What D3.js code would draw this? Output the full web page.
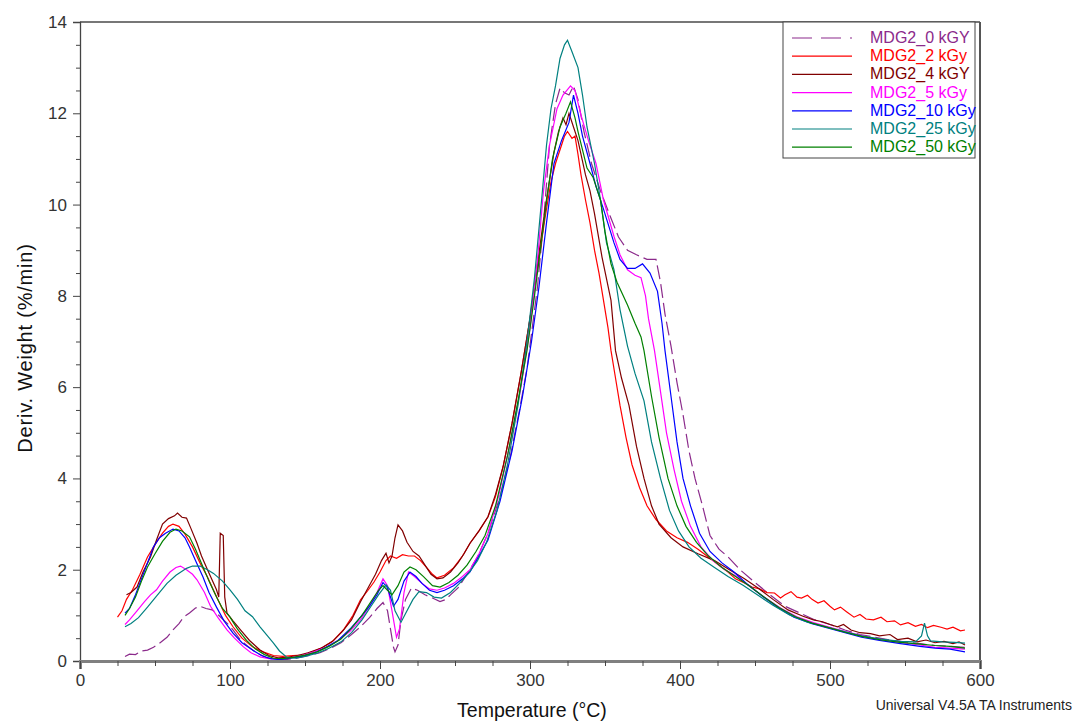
<!DOCTYPE html>
<html>
<head>
<meta charset="utf-8">
<script src="https://cdn.jsdelivr.net/npm/d3@7"></script>
<style>
  body { margin: 0; background: #fff; }
  text { font-family: "Liberation Sans", Arial, sans-serif; }
</style>
</head>
<body>
<div id="chart"></div>
<script>
// series labels, in legend order
const seriesNames = ["MDG2_0 kGY", "MDG2_2 kGy", "MDG2_4 kGY", "MDG2_5 kGy", "MDG2_10 kGy", "MDG2_25 kGy", "MDG2_50 kGy"];

// [temperature °C, deriv. weight %/min]
const mdg2_0 = [[30,0.1],[33,0.15],[37,0.14],[41,0.22],[45,0.24],[49,0.3],[53,0.39],[58,0.52],[62,0.68],[66,0.82],[69,0.96],[73,1.05],[77,1.16],[80,1.2],[84,1.15],[88,1.12],[91,1.05],[95,0.92],[98,0.83],[102,0.68],[107,0.46],[112,0.32],[118,0.17],[124,0.08],[130,0.04],[137,0.03],[145,0.07],[153,0.12],[160,0.18],[167,0.28],[174,0.4],[181,0.58],[187,0.75],[193,0.95],[198,1.15],[202,1.28],[205,1.1],[207,0.7],[209,0.3],[210,0.2],[212,0.35],[214,0.9],[217,1.35],[221,1.6],[225,1.55],[230,1.45],[235,1.38],[240,1.3],[244,1.35],[247,1.45],[252,1.6],[258,1.9],[265,2.28],[272,2.8],[280,3.6],[287,4.5],[293,5.5],[298,6.4],[305,8.2],[309,9.6],[313,11.3],[317,12.2],[320,12.55],[323,12.45],[326,12.4],[329,12.6],[332,12.3],[336,11.6],[341,10.9],[347,10.3],[354,9.7],[359,9.29],[365,9.0],[371,8.9],[378,8.8],[384,8.8],[387,8.3],[390,7.6],[394,6.9],[398,6.1],[402,5.4],[406,4.6],[410,4.0],[415,3.4],[420,2.75],[426,2.45],[432,2.28],[440,2.0],[450,1.72],[460,1.45],[470,1.2],[480,1.05],[490,0.9],[500,0.8],[510,0.68],[520,0.58],[530,0.52],[540,0.46],[550,0.42],[560,0.38],[570,0.34],[580,0.32],[590,0.3]];

const mdg2_2 = [[25,0.96],[28,1.1],[31,1.35],[35,1.56],[40,1.9],[45,2.28],[50,2.55],[55,2.8],[59,2.95],[62,3.0],[66,2.95],[70,2.78],[75,2.5],[80,2.15],[85,1.84],[89,1.55],[93,1.27],[97,1.0],[102,0.75],[108,0.5],[115,0.31],[122,0.2],[129,0.12],[135,0.1],[142,0.12],[148,0.13],[155,0.2],[162,0.3],[169,0.45],[176,0.7],[182,1.0],[187,1.34],[192,1.55],[196,1.73],[200,1.95],[204,2.2],[207,2.3],[211,2.25],[215,2.33],[219,2.3],[223,2.3],[227,2.2],[231,2.05],[235,1.9],[238,1.82],[243,1.88],[249,2.04],[255,2.3],[260,2.58],[266,2.85],[272,3.16],[277,3.6],[282,4.25],[288,5.2],[294,6.3],[300,7.5],[305,8.6],[310,9.7],[314,10.5],[317,10.9],[321,11.3],[323,11.5],[325,11.6],[328,11.45],[330,11.5],[332,11.1],[334,10.65],[337,10.1],[340,9.6],[343,9.0],[346,8.5],[349,7.9],[352,7.3],[354,6.8],[357,6.2],[360,5.6],[364,4.9],[368,4.3],[373,3.8],[378,3.4],[384,3.1],[391,2.85],[398,2.7],[405,2.6],[412,2.45],[420,2.25],[426,2.1],[432,1.95],[437,1.8],[443,1.71],[448,1.62],[453,1.58],[458,1.5],[463,1.49],[467,1.38],[470,1.45],[474,1.52],[478,1.4],[481,1.38],[485,1.44],[488,1.35],[492,1.27],[496,1.32],[500,1.2],[503,1.12],[507,1.18],[511,1.08],[516,0.96],[520,1.02],[524,0.92],[529,0.9],[534,0.96],[538,0.86],[543,0.88],[547,0.79],[552,0.84],[557,0.76],[561,0.8],[565,0.73],[569,0.78],[574,0.74],[578,0.7],[582,0.74],[587,0.66],[590,0.68]];

const mdg2_4 = [[31,1.45],[34,1.5],[38,1.62],[42,1.95],[47,2.28],[51,2.65],[55,3.0],[59,3.12],[63,3.18],[65,3.24],[68,3.15],[71,3.13],[74,2.9],[78,2.58],[81,2.3],[85,2.0],[88,1.78],[91,1.56],[92.5,1.4],[93.5,2.8],[95.5,2.75],[96.5,1.4],[98,1.05],[102,0.88],[107,0.68],[113,0.45],[120,0.24],[126,0.12],[132,0.07],[138,0.08],[145,0.12],[152,0.18],[160,0.27],[168,0.42],[175,0.65],[181,0.9],[187,1.3],[192,1.6],[197,1.9],[201,2.2],[204,2.36],[206,2.15],[208,2.3],[210,2.7],[212,2.98],[215,2.85],[218,2.6],[222,2.4],[226,2.3],[230,2.1],[234,1.9],[238,1.8],[242,1.82],[247,1.95],[252,2.15],[256,2.35],[260,2.58],[266,2.85],[272,3.16],[277,3.65],[282,4.25],[288,5.2],[294,6.3],[300,7.5],[305,8.7],[310,9.9],[316,11.15],[319,11.6],[322,11.9],[324,11.75],[326,12.0],[329,11.7],[332,11.4],[337,10.65],[340,10.3],[343,9.8],[348,8.85],[354,7.9],[357,6.8],[361,6.2],[366,5.6],[371,4.7],[376,4.0],[381,3.4],[386,3.0],[394,2.7],[402,2.5],[412,2.35],[423,2.2],[433,2.0],[443,1.8],[452,1.6],[462,1.35],[472,1.12],[482,0.98],[489,0.9],[495,0.86],[500,0.8],[505,0.75],[509,0.8],[514,0.68],[520,0.62],[527,0.6],[533,0.55],[540,0.58],[545,0.47],[552,0.5],[558,0.42],[564,0.46],[570,0.4],[576,0.43],[582,0.38],[586,0.42],[590,0.35]];

const mdg2_5 = [[30,0.8],[33,0.9],[38,1.1],[43,1.3],[47,1.45],[51,1.56],[55,1.75],[60,1.95],[64,2.05],[67,2.08],[71,2.0],[75,1.9],[78,1.78],[83,1.5],[87,1.2],[92,0.95],[98,0.68],[103,0.5],[109,0.31],[114,0.18],[120,0.09],[126,0.05],[133,0.04],[140,0.07],[148,0.12],[156,0.2],[164,0.3],[172,0.45],[180,0.65],[187,0.9],[193,1.2],[198,1.5],[202,1.8],[205,1.65],[208,1.1],[211,0.52],[213,0.7],[216,1.5],[219,1.95],[223,1.85],[228,1.7],[233,1.58],[238,1.55],[243,1.6],[249,1.7],[255,1.85],[260,2.0],[266,2.35],[272,2.8],[279,3.6],[287,4.8],[294,6.0],[300,7.3],[305,8.8],[309,10.3],[313,11.3],[318,12.1],[322,12.4],[327,12.6],[330,12.5],[334,11.96],[339,11.4],[344,10.9],[349,10.1],[356,9.3],[360,8.9],[365,8.57],[370,8.45],[374,8.4],[377,8.0],[379,7.5],[383,6.8],[387,5.9],[391,5.0],[396,4.2],[401,3.5],[407,2.95],[414,2.5],[422,2.2],[430,2.0],[438,1.85],[447,1.62],[457,1.38],[467,1.16],[478,0.97],[489,0.84],[500,0.74],[511,0.64],[522,0.55],[535,0.46],[548,0.4],[560,0.35],[570,0.3],[580,0.28],[590,0.26]];

const mdg2_10 = [[30,1.05],[33,1.15],[37,1.45],[41,1.8],[45,2.15],[49,2.5],[53,2.7],[57,2.8],[62,2.89],[66,2.85],[70,2.7],[73,2.5],[77,2.2],[82,1.84],[86,1.5],[91,1.18],[96,0.88],[102,0.61],[108,0.4],[115,0.24],[121,0.12],[127,0.05],[133,0.03],[140,0.06],[148,0.1],[156,0.17],[164,0.3],[172,0.45],[180,0.7],[187,0.96],[193,1.2],[198,1.45],[202,1.72],[205,1.6],[209,1.2],[212,1.35],[216,1.75],[220,1.95],[224,1.85],[228,1.7],[233,1.55],[238,1.5],[243,1.55],[249,1.65],[255,1.8],[260,1.95],[266,2.3],[272,2.65],[280,3.5],[288,4.6],[295,5.8],[301,7.0],[306,8.2],[311,9.6],[316,10.9],[321,11.4],[326,11.8],[329,12.4],[332,12.0],[335,11.5],[340,10.9],[344,10.4],[349,9.9],[356,9.16],[360,8.8],[365,8.6],[370,8.6],[375,8.7],[380,8.5],[385,8.1],[388,7.4],[390,6.8],[394,5.8],[398,4.8],[402,4.0],[407,3.4],[413,2.8],[420,2.4],[428,2.15],[436,1.95],[445,1.68],[455,1.42],[465,1.18],[476,0.96],[488,0.82],[499,0.72],[510,0.62],[521,0.52],[533,0.45],[547,0.38],[560,0.32],[570,0.28],[580,0.26],[590,0.2]];

const mdg2_25 = [[30,0.75],[34,0.82],[39,0.95],[45,1.18],[51,1.42],[58,1.7],[64,1.88],[71,2.03],[75,2.08],[80,2.08],[85,2.0],[89,1.92],[95,1.75],[100,1.56],[105,1.35],[110,1.1],[115,0.97],[120,0.75],[125,0.55],[129,0.39],[133,0.22],[138,0.08],[144,0.06],[150,0.1],[158,0.17],[166,0.28],[174,0.42],[181,0.62],[188,0.9],[194,1.2],[199,1.45],[204,1.67],[207,1.55],[210,1.1],[214,0.85],[218,1.1],[222,1.35],[226,1.52],[231,1.5],[236,1.4],[241,1.38],[247,1.5],[253,1.7],[259,1.92],[265,2.2],[271,2.6],[278,3.3],[285,4.3],[292,5.6],[298,7.0],[303,8.4],[308,10.2],[311,11.3],[314,12.1],[317,12.6],[320,13.2],[323,13.5],[325,13.6],[328,13.35],[332,13.0],[335,12.4],[338,11.7],[343,10.9],[347,10.1],[351,9.16],[356,8.57],[360,7.7],[365,6.9],[370,6.3],[376,5.7],[381,4.8],[387,4.0],[393,3.3],[399,2.85],[406,2.5],[414,2.25],[423,2.05],[432,1.85],[442,1.66],[452,1.44],[462,1.22],[473,1.01],[485,0.85],[497,0.75],[509,0.65],[521,0.55],[534,0.48],[547,0.43],[557,0.42],[561,0.55],[563,0.83],[565,0.55],[567,0.44],[575,0.42],[583,0.41],[590,0.39]];

const mdg2_50 = [[30,1.0],[33,1.15],[37,1.4],[41,1.75],[45,2.06],[50,2.35],[55,2.62],[60,2.82],[64,2.89],[68,2.85],[73,2.72],[77,2.45],[82,2.06],[86,1.75],[91,1.4],[95,1.15],[100,0.96],[105,0.7],[111,0.45],[117,0.26],[123,0.14],[129,0.06],[135,0.05],[142,0.08],[150,0.13],[158,0.2],[166,0.32],[174,0.48],[181,0.72],[188,1.0],[194,1.3],[199,1.55],[202,1.65],[205,1.55],[208,1.45],[212,1.65],[216,1.95],[220,2.06],[224,2.0],[229,1.85],[235,1.65],[240,1.62],[246,1.72],[252,1.88],[258,2.1],[264,2.4],[270,2.75],[277,3.4],[285,4.5],[292,5.7],[298,6.8],[303,8.0],[308,9.3],[312,10.3],[315,11.0],[320,11.7],[324,12.0],[327,12.25],[330,11.9],[332,11.6],[338,10.8],[342,10.6],[347,10.1],[350,9.4],[354,8.7],[358,8.3],[365,7.8],[370,7.4],[374,7.1],[376,6.8],[381,5.8],[386,4.9],[392,4.0],[398,3.4],[404,2.95],[411,2.6],[419,2.3],[428,2.05],[437,1.85],[446,1.65],[456,1.4],[466,1.17],[477,0.97],[488,0.83],[499,0.73],[510,0.63],[521,0.54],[534,0.46],[547,0.41],[560,0.37],[570,0.34],[580,0.32],[590,0.28]];

const seriesData = [mdg2_0, mdg2_2, mdg2_4, mdg2_5, mdg2_10, mdg2_25, mdg2_50];
const colors = ["#8b2a8b", "#ff0000", "#800000", "#ff00ff", "#0000ff", "#008080", "#008000"];

const xTicks = [0, 100, 200, 300, 400, 500, 600];
const yTicks = [0, 2, 4, 6, 8, 10, 12, 14];

const W = 1075, H = 722;
const margin = { top: 22, right: 95, bottom: 61, left: 80 };
const width = W - margin.left - margin.right;
const height = H - margin.top - margin.bottom;

const svg = d3.select("#chart").append("svg")
  .attr("width", W)
  .attr("height", H);

const g = svg.append("g")
  .attr("transform", `translate(${margin.left},${margin.top})`);

const x = d3.scaleLinear().domain([0, 600]).range([0, width]);
const y = d3.scaleLinear().domain([0, 14]).range([height, 0]);

// curves
const line = d3.line()
  .x(d => x(d[0]))
  .y(d => y(d[1]));

seriesData.forEach((s, i) => {
  g.append("path")
    .datum(s)
    .attr("fill", "none")
    .attr("stroke", colors[i])
    .attr("stroke-width", 1.2)
    .attr("stroke-dasharray", i === 0 ? "14,5" : null)
    .attr("d", line);
});

// frame: top and right borders
g.append("line").attr("x1", 0).attr("x2", width).attr("y1", 0).attr("y2", 0)
  .attr("stroke", "#777").attr("stroke-width", 2);
g.append("line").attr("x1", width).attr("x2", width).attr("y1", 0).attr("y2", height)
  .attr("stroke", "#555").attr("stroke-width", 2);

// y axis
const yAxis = g.append("g")
  .call(d3.axisLeft(y).tickValues(yTicks).tickSize(7).tickPadding(6).tickFormat(d3.format("d")));
yAxis.select(".domain").attr("stroke", "#444").attr("stroke-width", 1.3);
yAxis.selectAll(".tick line").attr("stroke", "#444");
yAxis.selectAll("text").attr("font-size", 17).attr("fill", "#333");
g.append("g")
  .call(d3.axisLeft(y).tickValues(d3.range(0.5, 14, 1).concat(d3.range(1, 14, 2))).tickSize(4).tickFormat(""))
  .call(a => a.select(".domain").remove())
  .selectAll(".tick line").attr("stroke", "#444");

// x axis
const xAxis = g.append("g")
  .attr("transform", `translate(0,${height})`)
  .call(d3.axisBottom(x).tickValues(xTicks).tickSize(8).tickPadding(5));
xAxis.select(".domain").attr("stroke", "#808080").attr("stroke-width", 3);
xAxis.selectAll(".tick line").attr("stroke", "#444");
xAxis.selectAll("text").attr("font-size", 17).attr("fill", "#333");
g.append("g")
  .attr("transform", `translate(0,${height})`)
  .call(d3.axisBottom(x).tickValues(d3.range(25, 600, 25).filter(v => v % 100 !== 0)).tickSize(5).tickFormat(""))
  .call(a => a.select(".domain").remove())
  .selectAll(".tick line").attr("stroke", "#444");

// axis titles
svg.append("text")
  .attr("x", margin.left + width / 2 + 2)
  .attr("y", 717)
  .attr("text-anchor", "middle")
  .attr("font-size", 19.5)
  .attr("fill", "#111")
  .text("Temperature (°C)");

svg.append("text")
  .attr("transform", `translate(32,348) rotate(-90)`)
  .attr("text-anchor", "middle")
  .attr("font-size", 20)
  .attr("letter-spacing", 0.8)
  .attr("fill", "#111")
  .text("Deriv. Weight (%/min)");

svg.append("text")
  .attr("x", 1072)
  .attr("y", 710)
  .attr("text-anchor", "end")
  .attr("font-size", 14)
  .attr("fill", "#222")
  .text("Universal V4.5A TA Instruments");

// legend
const legend = svg.append("g").attr("transform", "translate(783,22)");
legend.append("rect")
  .attr("width", 192).attr("height", 136)
  .attr("fill", "#fff").attr("stroke", "#444").attr("stroke-width", 1);

seriesNames.forEach((name, i) => {
  const yy = 16 + i * 18.2;
  legend.append("line")
    .attr("x1", 9).attr("x2", 69).attr("y1", yy).attr("y2", yy)
    .attr("stroke", colors[i]).attr("stroke-width", 1.2)
    .attr("stroke-dasharray", i === 0 ? "20,9" : null);
  legend.append("text")
    .attr("x", 87).attr("y", yy + 5)
    .attr("font-size", 16)
    .attr("fill", colors[i])
    .text(name);
});
</script>
</body>
</html>
